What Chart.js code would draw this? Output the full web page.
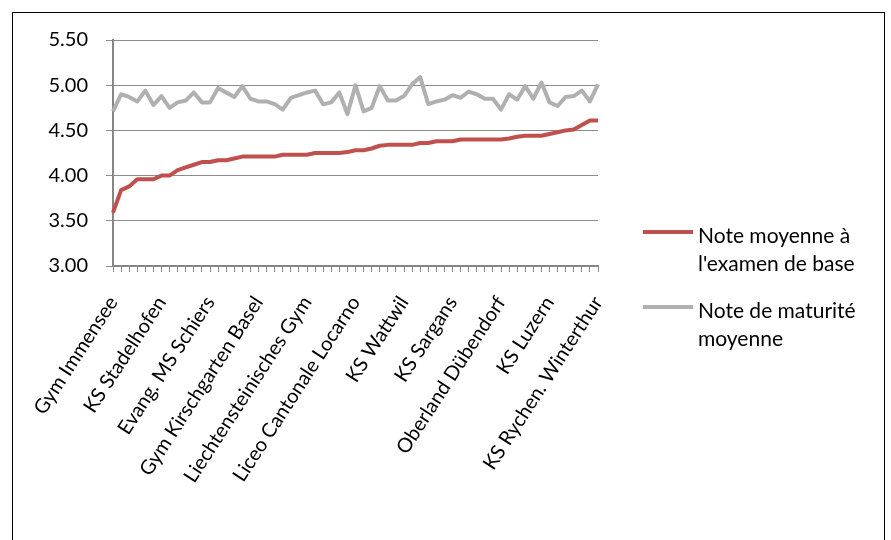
<!DOCTYPE html>
<html>
<head>
<meta charset="utf-8">
<script src="https://cdn.jsdelivr.net/npm/chart.js@4/dist/chart.umd.min.js"></script>
<style>
    html, body { margin: 0; padding: 0; background: #fff; }
    body { width: 891px; height: 540px; position: relative; overflow: hidden; font-family: Lato, 'Open Sans', sans-serif; }
    #frame { position: absolute; left: 12px; top: 12px; width: 873px; height: 560px; border: 1px solid #000; box-sizing: border-box; }
    #wrap { position: absolute; left: 0; top: 0; width: 891px; height: 540px; }
    .legend-item { position: absolute; left: 643px; }
    .legend-line { position: absolute; left: 0; width: 50px; height: 4px; }
    .legend-text { position: absolute; left: 55px; width: 200px; font-size: 21px; line-height: 28px; color: #000; }
</style>
</head>
<body>
<div id="frame"></div>
<div id="wrap"><canvas id="chart" width="891" height="540"></canvas></div>

<div class="legend-item" style="top: 221px;">
    <div class="legend-line" style="top: 9px; background: #c0504d;"></div>
    <div class="legend-text">Note moyenne à<br>l'examen de base</div>
</div>
<div class="legend-item" style="top: 296px;">
    <div class="legend-line" style="top: 9px; background: #b0b0b0;"></div>
    <div class="legend-text">Note de maturité<br>moyenne</div>
</div>

<script>
// --- données ---
const seriesNames = ["Note moyenne à l'examen de base", 'Note de maturité moyenne'];

// une étiquette affichée sur 6 catégories
const labelStep = 6;
const shownSchools = [
    'Gym Immensee', 'KS Stadelhofen', 'Evang. MS Schiers', 'Gym Kirschgarten Basel',
    'Liechtensteinisches Gym', 'Liceo Cantonale Locarno', 'KS Wattwil', 'KS Sargans',
    'Oberland Dübendorf', 'KS Luzern', 'KS Rychen. Winterthur'
];

const examBase = [
    3.59, 3.84, 3.88, 3.96, 3.96, 3.96, 4.00, 4.00, 4.06, 4.09,
    4.12, 4.15, 4.15, 4.17, 4.17, 4.19, 4.21, 4.21, 4.21, 4.21,
    4.21, 4.23, 4.23, 4.23, 4.23, 4.25, 4.25, 4.25, 4.25, 4.26,
    4.28, 4.28, 4.30, 4.33, 4.34, 4.34, 4.34, 4.34, 4.36, 4.36,
    4.38, 4.38, 4.38, 4.40, 4.40, 4.40, 4.40, 4.40, 4.40, 4.41,
    4.43, 4.44, 4.44, 4.44, 4.46, 4.48, 4.50, 4.51, 4.56, 4.61,
    4.61
];

const maturite = [
    4.71, 4.90, 4.87, 4.82, 4.94, 4.78, 4.88, 4.75, 4.81, 4.83,
    4.92, 4.81, 4.81, 4.97, 4.92, 4.87, 4.99, 4.85, 4.82, 4.82,
    4.79, 4.73, 4.86, 4.89, 4.92, 4.94, 4.79, 4.81, 4.92, 4.68,
    5.00, 4.71, 4.75, 4.99, 4.83, 4.83, 4.88, 5.01, 5.09, 4.79,
    4.82, 4.84, 4.89, 4.86, 4.93, 4.90, 4.85, 4.85, 4.73, 4.90,
    4.84, 4.99, 4.85, 5.03, 4.81, 4.77, 4.87, 4.88, 4.94, 4.82,
    5.01
];

const yTicks = [3.00, 3.50, 4.00, 4.50, 5.00, 5.50];

const categories = examBase.map((_, i) => i % labelStep === 0 ? shownSchools[i / labelStep] : '');

// --- graphique ---
const axisGrey = '#868686';
const gridGrey = '#8c8c8c';

new Chart(document.getElementById('chart'), {
    type: 'line',
    data: {
        labels: categories,
        datasets: [
            {
                label: seriesNames[0],
                data: examBase,
                borderColor: '#c0504d',
                borderWidth: 4,
                pointRadius: 0,
                tension: 0,
                borderJoinStyle: 'round'
            },
            {
                label: seriesNames[1],
                data: maturite,
                borderColor: '#b0b0b0',
                borderWidth: 4,
                pointRadius: 0,
                tension: 0,
                borderJoinStyle: 'round'
            }
        ]
    },
    options: {
        responsive: false,
        animation: false,
        devicePixelRatio: 1,
        layout: { padding: { top: 40, right: 293, bottom: 0, left: 0 } },
        plugins: {
            legend: { display: false },
            tooltip: { enabled: false }
        },
        scales: {
            x: {
                offset: false,
                border: { color: axisGrey, width: 2 },
                grid: { drawOnChartArea: false, drawTicks: true, tickLength: 6, color: gridGrey, lineWidth: 1 },
                ticks: {
                    autoSkip: false,
                    minRotation: 57,
                    maxRotation: 57,
                    padding: 20,
                    color: '#000',
                    font: { family: 'Lato', size: 20 }
                },
                afterFit: (scale) => { scale.height = 540 - 266; }
            },
            y: {
                min: yTicks[0],
                max: yTicks[yTicks.length - 1],
                border: { color: axisGrey, width: 2 },
                grid: { color: gridGrey, lineWidth: 1, drawTicks: true, tickLength: 7 },
                afterBuildTicks: (scale) => { scale.ticks = yTicks.map(v => ({ value: v })); },
                ticks: {
                    padding: 18,
                    color: '#000',
                    font: { family: 'Lato', size: 20 },
                    callback: (v) => Number(v).toFixed(2)
                },
                afterFit: (scale) => { scale.width = 113; }
            }
        }
    }
});
</script>
</body>
</html>
